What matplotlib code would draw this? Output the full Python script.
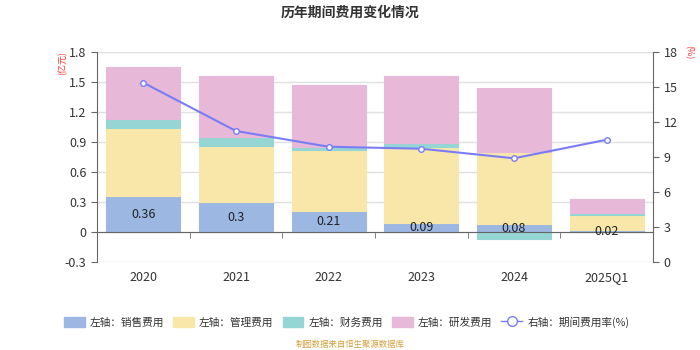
import numpy as np
import matplotlib
matplotlib.use("Agg")
import matplotlib.pyplot as plt
from matplotlib.patches import Patch
from matplotlib.lines import Line2D

plt.rcParams['font.family'] = ['Noto Sans CJK SC', 'DejaVu Sans']
plt.rcParams['axes.unicode_minus'] = False

years = ['2020', '2021', '2022', '2023', '2024', '2025Q1']
sales = [0.36, 0.30, 0.21, 0.09, 0.08, 0.02]
admin = [0.68, 0.56, 0.61, 0.76, 0.72, 0.15]
finance = [0.09, 0.09, 0.03, 0.04, -0.07, 0.02]
rnd = [0.52, 0.61, 0.62, 0.67, 0.64, 0.14]
rate = [15.37, 11.23, 9.88, 9.71, 8.89, 10.48]

series_names = ['左轴：销售费用', '左轴：管理费用', '左轴：财务费用', '左轴：研发费用']
colors = ['#9bb7e2', '#f8e7a9', '#95d5d4', '#e7b8d8']
line_color = '#7a7cf5'

fig = plt.figure(figsize=(7, 3.5), dpi=100)
ax = fig.add_axes([0.1386, 0.2514, 0.7943, 0.6])
ax2 = ax.twinx()

# stacked bars: positives stack up from 0, negatives stack down from 0
x = np.arange(len(years))
w = 0.8
pos_base = np.zeros(len(years))
neg_base = np.zeros(len(years))
for vals, c in zip([sales, admin, finance, rnd], colors):
    vals = np.array(vals)
    bottom = np.where(vals >= 0, pos_base, neg_base)
    ax.bar(x, vals, w, bottom=bottom, color=c, edgecolor=c, linewidth=0.8, zorder=2)
    pos_base = pos_base + np.where(vals >= 0, vals, 0)
    neg_base = neg_base + np.where(vals < 0, vals, 0)

for xi, v in zip(x, sales):
    ax.text(xi, v / 2, f'{v:g}', ha='center', va='center', fontsize=9, color='#222222', zorder=3)

ax.set_ylim(-0.3, 1.8)
ax.set_yticks(np.arange(-0.3, 1.81, 0.3))
ax.set_yticklabels(['-0.3', '0', '0.3', '0.6', '0.9', '1.2', '1.5', '1.8'])
ax.set_xlim(-0.5, len(years) - 0.5)
ax.grid(axis='y', color='#e0e0e0', linewidth=1, zorder=0)
ax.set_axisbelow(True)

ax.spines['top'].set_visible(False)
ax.spines['right'].set_visible(False)
ax.spines['bottom'].set_position(('data', 0))
ax.spines['bottom'].set_color('#666666')
ax.spines['left'].set_color('#666666')
ax.set_xticks(x)
ax.set_xticklabels(years)
ax.set_xticks(np.arange(0.5, len(years) - 1, 1.0), minor=True)
ax.tick_params(axis='x', which='major', length=0, pad=28, labelsize=9, labelcolor='#333333')
ax.tick_params(axis='x', which='minor', length=4, color='#666666')
ax.tick_params(axis='y', length=4, color='#666666', labelsize=9, labelcolor='#333333')

ax2.plot(x, rate, color=line_color, linewidth=1.5, marker='o', markersize=4,
         markerfacecolor='white', markeredgecolor=line_color, markeredgewidth=1, zorder=4)
ax2.set_ylim(0, 18)
ax2.set_yticks(np.arange(0, 19, 3))
for s in ['top', 'left', 'bottom']:
    ax2.spines[s].set_visible(False)
ax2.spines['right'].set_color('#666666')
ax2.tick_params(axis='y', length=4, color='#666666', labelsize=9, labelcolor='#333333')

fig.text(0.5, 0.965, '历年期间费用变化情况', ha='center', va='center', fontsize=10, fontweight='bold', color='#333333')
fig.text(0.090, 0.82, '(亿元)', ha='center', va='center', rotation=90, fontsize=6.5, color='#ff3333')
fig.text(0.983, 0.85, '(%)', ha='center', va='center', rotation=270, fontsize=6.5, color='#ff3333')

handles = [Patch(facecolor=c, edgecolor=c, label=n) for c, n in zip(colors, series_names)]
handles.append(Line2D([0], [0], color=line_color, linewidth=1, marker='o', markersize=7,
                      markerfacecolor='white', markeredgecolor=line_color, label='右轴：期间费用率(%)'))
fig.legend(handles=handles, loc='center', bbox_to_anchor=(0.495, 0.08), ncol=5, frameon=False,
           fontsize=7.7, handlelength=1.96, handleheight=1.1, columnspacing=0.85, handletextpad=0.47,
           labelcolor='#333333', borderpad=0.2)

fig.text(0.5, 0.015, '制图数据来自恒生聚源数据库', ha='center', va='center', fontsize=6, color='#d4a03c')

fig.savefig('out.png', dpi=100)
